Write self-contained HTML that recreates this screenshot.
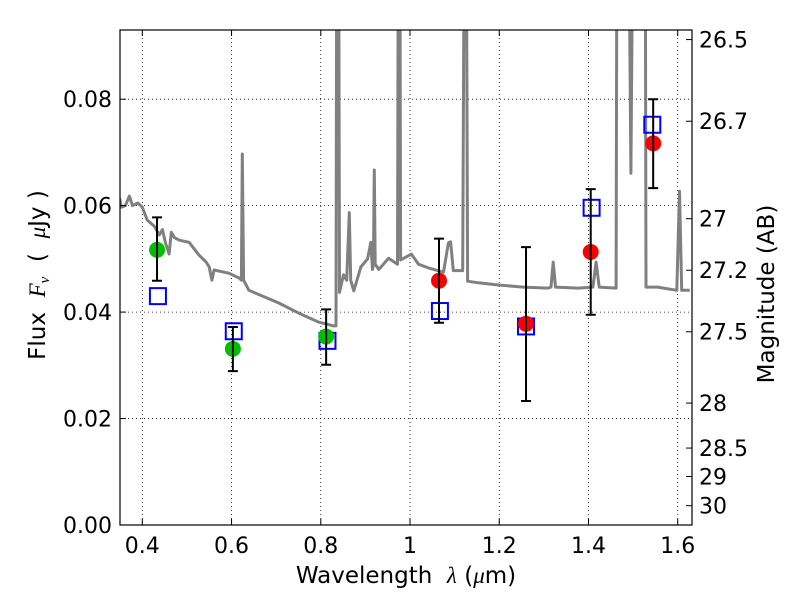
<!DOCTYPE html>
<html><head><meta charset="utf-8"><style>
body{margin:0;background:#fff}
svg text{font-family:"DejaVu Sans","Liberation Sans",sans-serif;fill:#000}
</style></head><body>
<svg id="chart" width="800" height="600" viewBox="0 0 800 600" xmlns="http://www.w3.org/2000/svg">
<defs><clipPath id="plotclip"><rect x="120" y="30" width="572" height="495"/></clipPath></defs>
<rect x="0" y="0" width="800" height="600" fill="#fff"/>
<g id="grid"></g>
<g id="spec" clip-path="url(#plotclip)"></g>
<g id="marks"></g>
<rect x="120" y="30" width="572" height="495" fill="none" stroke="#000" stroke-width="1.2"/>
<g id="ticks"></g>
<text x="406" y="583" font-size="23" text-anchor="middle" xml:space="preserve">Wavelength  <tspan font-style="italic" font-family="Liberation Serif">λ</tspan> (<tspan font-style="italic" font-family="Liberation Serif">μ</tspan>m)</text>
<text transform="translate(45,275) rotate(-90)" font-size="23" text-anchor="middle" xml:space="preserve">Flux  <tspan font-style="italic" font-family="Liberation Serif">F</tspan><tspan font-style="italic" font-family="Liberation Serif" font-size="15" dy="4">ν</tspan><tspan dy="-4">  (  </tspan><tspan font-style="italic" font-family="Liberation Serif">μ</tspan>Jy )</text>
<text transform="translate(774,294) rotate(-90)" font-size="23" text-anchor="middle">Magnitude (AB)</text>
</svg>
<script>
const xTicks=[0.4,0.6,0.8,1.0,1.2,1.4,1.6];
const xTickLabels=["0.4","0.6","0.8","1","1.2","1.4","1.6"];
const yTicks=[0,0.02,0.04,0.06,0.08];
const yTickLabels=["0.00","0.02","0.04","0.06","0.08"];
const magTicks=[26.5,26.7,27,27.2,27.5,28,28.5,29,30];
const magLabels=["26.5","26.7","27","27.2","27.5","28","28.5","29","30"];
const greenWave=[0.433,0.603,0.812];
const greenFlux=[0.0517,0.0331,0.0354];
const greenLo=[0.0459,0.0289,0.0301];
const greenHi=[0.0578,0.0372,0.0405];
const redWave=[1.065,1.26,1.405,1.545];
const redFlux=[0.0459,0.0378,0.0513,0.0717];
const redLo=[0.0380,0.0233,0.0395,0.0633];
const redHi=[0.0538,0.0522,0.0631,0.0800];
const modelWave=[0.435,0.605,0.815,1.067,1.26,1.407,1.543];
const modelFlux=[0.0430,0.0364,0.0346,0.0402,0.0373,0.0596,0.0752];
const specWave=[0.349,0.353,0.362,0.371,0.378,0.39,0.4,0.411,0.427,0.438,0.445,0.452,0.46,0.465,0.472,0.483,0.505,0.527,0.543,0.55,0.556,0.561,0.594,0.617,0.622,0.624,0.627,0.639,0.706,0.751,0.796,0.829,0.834,0.836,0.84,0.842,0.851,0.858,0.864,0.867,0.874,0.89,0.905,0.912,0.916,0.918,0.92,0.922,0.93,0.952,0.972,0.974,0.977,0.979,1.003,1.019,1.041,1.075,1.086,1.091,1.097,1.118,1.122,1.126,1.129,1.153,1.198,1.254,1.309,1.316,1.321,1.326,1.377,1.41,1.417,1.424,1.462,1.464,1.49,1.495,1.5,1.527,1.529,1.555,1.598,1.604,1.609,1.627];
const specFlux=[0.0614,0.0597,0.060,0.0618,0.060,0.0605,0.0597,0.0573,0.0561,0.0545,0.0555,0.053,0.0509,0.055,0.054,0.0535,0.0531,0.0507,0.0494,0.0485,0.046,0.0479,0.0473,0.0464,0.046,0.0697,0.046,0.0441,0.0417,0.0398,0.0381,0.0374,0.0374,0.12,0.12,0.0437,0.047,0.046,0.0587,0.046,0.044,0.0485,0.050,0.0531,0.048,0.049,0.0667,0.049,0.048,0.0501,0.049,0.12,0.12,0.0498,0.0509,0.049,0.0483,0.0475,0.053,0.0532,0.0478,0.0478,0.12,0.12,0.0458,0.0455,0.0451,0.0447,0.0445,0.0447,0.0494,0.0447,0.0445,0.0447,0.0494,0.0447,0.0445,0.12,0.12,0.0661,0.12,0.12,0.0447,0.0447,0.0441,0.0627,0.0441,0.0441];

const NS="http://www.w3.org/2000/svg";
const L=120,R=692,T=30,B=525,X0=0.35,X1=1.632,Y0=0,Y1=0.093;
function sx(v){return L+(v-X0)/(X1-X0)*(R-L);}
function sy(v){return B-(v-Y0)/(Y1-Y0)*(B-T);}
function magToFlux(m){return Math.pow(10,(23.9-m)/2.5);}
function mk(tag,attrs,parent){const e=document.createElementNS(NS,tag);for(const k in attrs)e.setAttribute(k,attrs[k]);parent.appendChild(e);return e;}
const grid=document.getElementById('grid'),ticks=document.getElementById('ticks'),marks=document.getElementById('marks'),spec=document.getElementById('spec');

xTicks.forEach((v,i)=>{const x=sx(v);
 const g=mk('line',{x1:x,x2:x,y1:T,y2:B,stroke:'#000','stroke-width':0.8,'stroke-dasharray':'1,3'},grid);
 
 
 const t1=mk('line',{x1:x,x2:x,y1:B,y2:B-6,stroke:'#000'},ticks);
 
 
 const t2=mk('line',{x1:x,x2:x,y1:T,y2:T+6,stroke:'#000'},ticks);
 
 
 const tx=mk('text',{x:x,y:B+28,'font-size':22,'text-anchor':'middle'},ticks);tx.textContent=xTickLabels[i];
 
 
});
yTicks.forEach((v,i)=>{const y=sy(v);
 if(i>0){const g=mk('line',{x1:L,x2:R,y1:y,y2:y,stroke:'#000','stroke-width':0.8,'stroke-dasharray':'1,3'},grid);
 
 }
 const t=mk('line',{x1:L,x2:L+6,y1:y,y2:y,stroke:'#000'},ticks);
 
 
 const tx=mk('text',{x:L-8,y:y+8,'font-size':22,'text-anchor':'end'},ticks);tx.textContent=yTickLabels[i];
 
 
});
magTicks.forEach((m,i)=>{const y=sy(magToFlux(m));
 const t=mk('line',{x1:R,x2:R-6,y1:y,y2:y,stroke:'#000'},ticks);
 
 
 const tx=mk('text',{x:R+7,y:y+8,'font-size':22},ticks);tx.textContent=magLabels[i];
 
 
});
let d='';specWave.forEach((w,i)=>{d+=(i?'L':'M')+sx(w).toFixed(1)+','+sy(specFlux[i]).toFixed(1);});
const sp=mk('path',{d:d,fill:'none',stroke:'#808080','stroke-width':3,'stroke-linejoin':'round'},spec);



modelWave.forEach((w,i)=>{const s=mk('rect',{x:sx(w)-8,y:sy(modelFlux[i])-8,width:16,height:16,fill:'none',stroke:'#0000ff','stroke-width':2},marks);
 
 });
function pts(W,F,Lo,Hi,col,name){W.forEach((w,i)=>{const x=sx(w);
 const c=mk('circle',{cx:x,cy:sy(F[i]),r:8,fill:col},marks);
 
 
 const eb=mk('path',{d:`M${x},${sy(Lo[i])}V${sy(Hi[i])}M${x-5},${sy(Lo[i])}H${x+5}M${x-5},${sy(Hi[i])}H${x+5}`,stroke:'#000','stroke-width':2,fill:'none'},marks);
 
 
});}
pts(greenWave,greenFlux,greenLo,greenHi,'#00bf00','green-point');
pts(redWave,redFlux,redLo,redHi,'#ff0000','red-point');
</script>
</body></html>
